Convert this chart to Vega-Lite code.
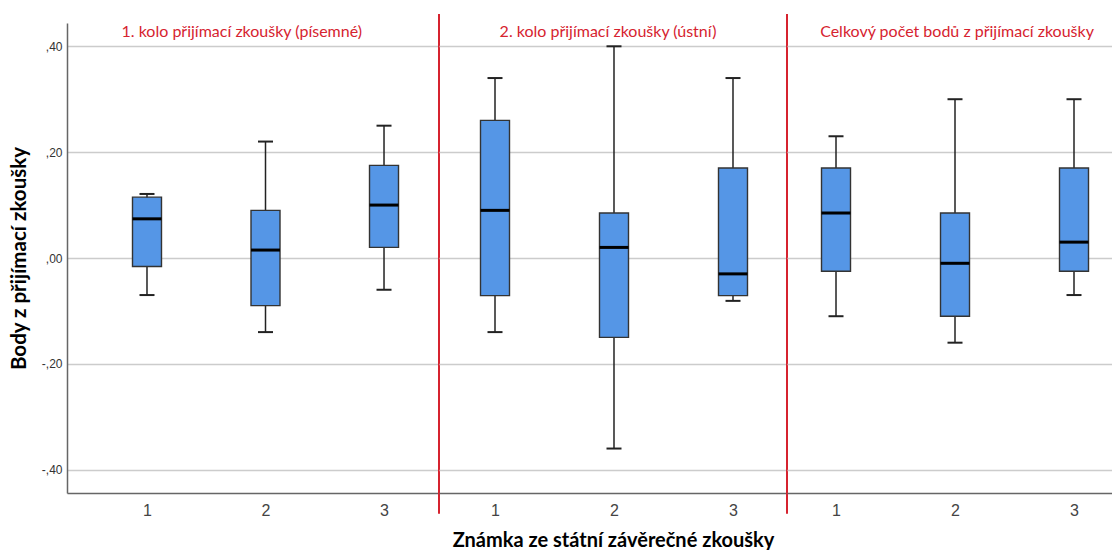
{
  "$schema": "https://vega.github.io/schema/vega-lite/v6.json",
  "autosize": {"type": "pad"},
  "padding": {"left": 9, "top": 13, "right": 0, "bottom": 0},
  "background": "white",
  "datasets": {
    "box": [
      {"panel": 1, "grade": 1, "lower": -0.070, "q1": -0.016, "median": 0.074, "q3": 0.115, "upper": 0.121},
      {"panel": 1, "grade": 2, "lower": -0.140, "q1": -0.090, "median": 0.015, "q3": 0.090, "upper": 0.220},
      {"panel": 1, "grade": 3, "lower": -0.060, "q1": 0.020, "median": 0.100, "q3": 0.175, "upper": 0.250},
      {"panel": 2, "grade": 1, "lower": -0.140, "q1": -0.071, "median": 0.090, "q3": 0.260, "upper": 0.340},
      {"panel": 2, "grade": 2, "lower": -0.360, "q1": -0.150, "median": 0.020, "q3": 0.085, "upper": 0.400},
      {"panel": 2, "grade": 3, "lower": -0.081, "q1": -0.071, "median": -0.030, "q3": 0.170, "upper": 0.340},
      {"panel": 3, "grade": 1, "lower": -0.110, "q1": -0.025, "median": 0.085, "q3": 0.170, "upper": 0.230},
      {"panel": 3, "grade": 2, "lower": -0.160, "q1": -0.110, "median": -0.010, "q3": 0.085, "upper": 0.300},
      {"panel": 3, "grade": 3, "lower": -0.070, "q1": -0.025, "median": 0.030, "q3": 0.170, "upper": 0.300}
    ]
  },
  "spacing": 0,
  "bounds": "flush",
  "resolve": {"scale": {"x": "independent", "y": "independent"}},
  "config": {
    "view": {"stroke": null},
    "scale": {"continuousPadding": 0},
    "axis": {
      "labelFont": "Liberation Sans",
      "titleFont": "Lato",
      "titleFontWeight": "bold",
      "titleColor": "#000000",
      "domainColor": "#666666",
      "domainWidth": 1.5,
      "gridColor": "#cccccc",
      "gridWidth": 1.5,
      "ticks": false
    }
  },
  "hconcat": [
    {
      "width": 372,
      "height": 470,
      "layer": [
        {
          "data": {"name": "box"},
          "transform": [{"filter": "datum.panel == 1"}],
          "layer": [
            {"mark": {"type": "rule", "color": "#222222", "strokeWidth": 1.5},
             "encoding": {"y": {"field": "lower", "type": "quantitative"}, "y2": {"field": "upper"}}},
            {"mark": {"type": "tick", "orient": "horizontal", "size": 15, "thickness": 2, "color": "#222222", "opacity": 1},
             "encoding": {"y": {"field": "upper", "type": "quantitative"}}},
            {"mark": {"type": "tick", "orient": "horizontal", "size": 15, "thickness": 2, "color": "#222222", "opacity": 1},
             "encoding": {"y": {"field": "lower", "type": "quantitative"}}},
            {"mark": {"type": "bar", "size": 29, "fill": "#5596e6", "stroke": "#333333", "strokeWidth": 1.4},
             "encoding": {"y": {"field": "q1", "type": "quantitative"}, "y2": {"field": "q3"}}},
            {"mark": {"type": "tick", "orient": "horizontal", "size": 29, "thickness": 3, "color": "#000000", "opacity": 1},
             "encoding": {"y": {"field": "median", "type": "quantitative"}}}
          ],
          "encoding": {
            "x": {"field": "grade", "type": "quantitative",
                  "scale": {"domain": [0.325, 3.464], "nice": false, "zero": false, "padding": 0},
                  "axis": {"values": [1, 2, 3], "format": "d", "grid": false, "labelFontSize": 16, "labelColor": "#444444", "labelPadding": 9, "labelFlush": false, "title": null}}
          }
        },
        {
          "data": {"values": [{"title": "1. kolo přijímací zkoušky (písemné)"}]},
          "mark": {"type": "text", "font": "Lato", "fontSize": 16, "color": "#d6232f", "baseline": "middle", "align": "center"},
          "encoding": {
            "x": {"datum": 1.80, "type": "quantitative"},
            "y": {"datum": 0.427, "type": "quantitative"},
            "text": {"field": "title"}
          }
        },
        {
          "data": {"values": [{"sep": "a"}]},
          "mark": {"type": "rule", "color": "#d6232f", "strokeWidth": 2},
          "encoding": {
            "x": {"datum": 3.464, "type": "quantitative"},
            "y": {"datum": 0.461, "type": "quantitative",
                  "scale": {"domain": [-0.444, 0.444], "nice": false, "zero": false, "padding": 0},
                  "axis": {"values": [-0.4, -0.2, 0, 0.2, 0.4], "labelExpr": "(datum.value < 0 ? '-' : '') + replace(format(abs(datum.value), '.2f'), '0.', ',')", "grid": true, "labelFontSize": 12, "labelColor": "#333333", "labelPadding": 5, "title": "Body z přijímací zkoušky", "titleFontSize": 20.5, "titlePadding": 12}},
            "y2": {"datum": -0.483}
          }
        }
      ]
    },
    {
      "width": 348,
      "height": 470,
      "layer": [
        {
          "data": {"name": "box"},
          "transform": [{"filter": "datum.panel == 2"}],
          "layer": [
            {"mark": {"type": "rule", "color": "#222222", "strokeWidth": 1.5},
             "encoding": {"y": {"field": "lower", "type": "quantitative"}, "y2": {"field": "upper"}}},
            {"mark": {"type": "tick", "orient": "horizontal", "size": 15, "thickness": 2, "color": "#222222", "opacity": 1},
             "encoding": {"y": {"field": "upper", "type": "quantitative"}}},
            {"mark": {"type": "tick", "orient": "horizontal", "size": 15, "thickness": 2, "color": "#222222", "opacity": 1},
             "encoding": {"y": {"field": "lower", "type": "quantitative"}}},
            {"mark": {"type": "bar", "size": 29, "fill": "#5596e6", "stroke": "#333333", "strokeWidth": 1.4},
             "encoding": {"y": {"field": "q1", "type": "quantitative"}, "y2": {"field": "q3"}}},
            {"mark": {"type": "tick", "orient": "horizontal", "size": 29, "thickness": 3, "color": "#000000", "opacity": 1},
             "encoding": {"y": {"field": "median", "type": "quantitative"}}}
          ],
          "encoding": {
            "x": {"field": "grade", "type": "quantitative",
                  "scale": {"domain": [0.5294, 3.4538], "nice": false, "zero": false, "padding": 0},
                  "axis": {"values": [1, 2, 3], "format": "d", "grid": false, "labelFontSize": 16, "labelColor": "#444444", "labelPadding": 9, "labelFlush": false,
                           "title": "Známka ze státní závěrečné zkoušky", "titleFontSize": 20, "titlePadding": 12}}
          }
        },
        {
          "data": {"values": [{"title": "2. kolo přijímací zkoušky (ústní)"}]},
          "mark": {"type": "text", "font": "Lato", "fontSize": 16, "color": "#d6232f", "baseline": "middle", "align": "center"},
          "encoding": {
            "x": {"datum": 1.95, "type": "quantitative"},
            "y": {"datum": 0.427, "type": "quantitative"},
            "text": {"field": "title"}
          }
        },
        {
          "data": {"values": [{"sep": "b"}]},
          "mark": {"type": "rule", "color": "#d6232f", "strokeWidth": 2},
          "encoding": {
            "x": {"datum": 3.4538, "type": "quantitative"},
            "y": {"datum": 0.461, "type": "quantitative",
                  "scale": {"domain": [-0.444, 0.444], "nice": false, "zero": false, "padding": 0},
                  "axis": {"values": [-0.4, -0.2, 0, 0.2, 0.4], "grid": true, "labels": false, "domain": false, "title": null}},
            "y2": {"datum": -0.483}
          }
        }
      ]
    },
    {
      "width": 325,
      "height": 470,
      "layer": [
        {
          "data": {"name": "box"},
          "transform": [{"filter": "datum.panel == 3"}],
          "layer": [
            {"mark": {"type": "rule", "color": "#222222", "strokeWidth": 1.5},
             "encoding": {"y": {"field": "lower", "type": "quantitative",
                                "scale": {"domain": [-0.444, 0.444], "nice": false, "zero": false, "padding": 0},
                                "axis": {"values": [-0.4, -0.2, 0, 0.2, 0.4], "grid": true, "labels": false, "domain": false, "title": null}},
                          "y2": {"field": "upper"}}},
            {"mark": {"type": "tick", "orient": "horizontal", "size": 15, "thickness": 2, "color": "#222222", "opacity": 1},
             "encoding": {"y": {"field": "upper", "type": "quantitative"}}},
            {"mark": {"type": "tick", "orient": "horizontal", "size": 15, "thickness": 2, "color": "#222222", "opacity": 1},
             "encoding": {"y": {"field": "lower", "type": "quantitative"}}},
            {"mark": {"type": "bar", "size": 29, "fill": "#5596e6", "stroke": "#333333", "strokeWidth": 1.4},
             "encoding": {"y": {"field": "q1", "type": "quantitative"}, "y2": {"field": "q3"}}},
            {"mark": {"type": "tick", "orient": "horizontal", "size": 29, "thickness": 3, "color": "#000000", "opacity": 1},
             "encoding": {"y": {"field": "median", "type": "quantitative"}}}
          ],
          "encoding": {
            "x": {"field": "grade", "type": "quantitative",
                  "scale": {"domain": [0.5882, 3.3193], "nice": false, "zero": false, "padding": 0},
                  "axis": {"values": [1, 2, 3], "format": "d", "grid": false, "labelFontSize": 16, "labelColor": "#444444", "labelPadding": 9, "labelFlush": false, "title": null}}
          }
        },
        {
          "data": {"values": [{"title": "Celkový počet bodů z přijímací zkoušky"}]},
          "mark": {"type": "text", "font": "Lato", "fontSize": 16, "color": "#d6232f", "baseline": "middle", "align": "center"},
          "encoding": {
            "x": {"datum": 2.017, "type": "quantitative"},
            "y": {"datum": 0.427, "type": "quantitative"},
            "text": {"field": "title"}
          }
        }
      ]
    }
  ]
}
